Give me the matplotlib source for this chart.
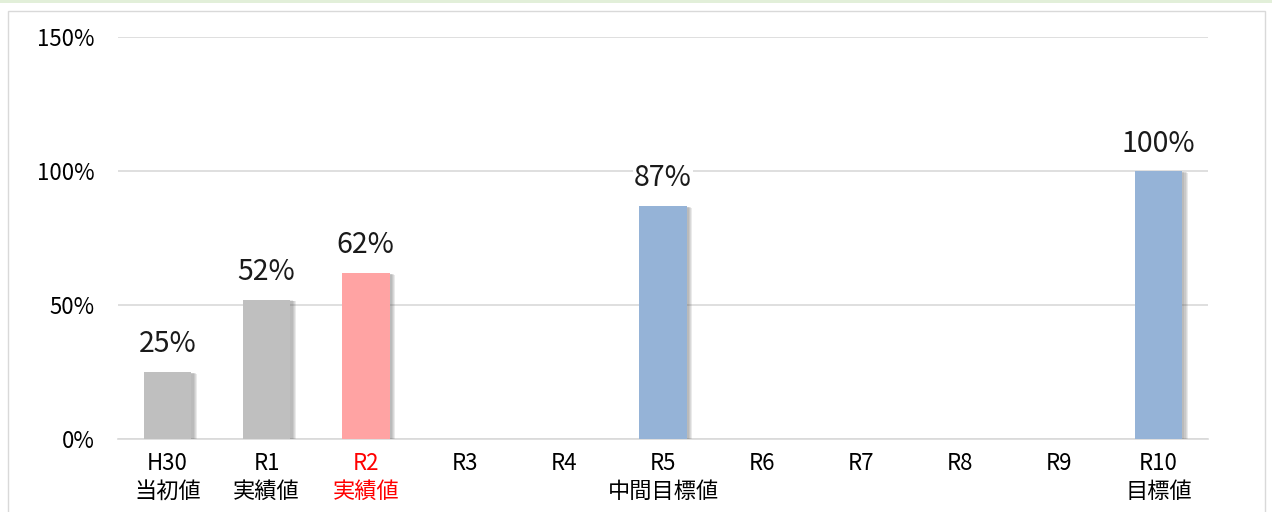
import matplotlib.pyplot as plt
import matplotlib.patheffects as pe
from matplotlib.patches import Rectangle
from matplotlib.ticker import PercentFormatter
import numpy as np

plt.rcParams['font.family'] = ['Noto Sans CJK JP', 'DejaVu Sans']

years = ['H30', 'R1', 'R2', 'R3', 'R4', 'R5', 'R6', 'R7', 'R8', 'R9', 'R10']
notes = ['当初値', '実績値', '実績値', '', '', '中間目標値', '', '', '', '', '目標値']
values = [25, 52, 62, None, None, 87, None, None, None, None, 100]
bar_colors = ['#bfbfbf', '#bfbfbf', '#ffa3a3', None, None, '#95b3d7',
              None, None, None, None, '#95b3d7']

fig = plt.figure(figsize=(12.72, 5.12), dpi=100)
W, H = 1272, 512

# outer frame and the thin green band at the very top
fig.patches.append(Rectangle((0, 509 / H), 1, 3 / H, transform=fig.transFigure,
                             facecolor='#e2efd9', edgecolor='none', zorder=-2))
fig.patches.append(Rectangle((8 / W, -0.01), 1257 / W, (501 / H) + 0.01,
                             transform=fig.transFigure, facecolor='white',
                             edgecolor='#d9d9d9', linewidth=1, zorder=-1))

ax = fig.add_axes([118 / W, 73 / H, 1090 / W, 402 / H])
ax.set_facecolor('none')
ax.set_zorder(2)

x = np.arange(len(years))
# soft shadow: a few stacked offsets with low alpha
shadow = [pe.SimplePatchShadow(offset=(d, -d / 3), shadow_rgbFace='#606060', alpha=0.13)
          for d in (4.0, 3.2, 2.4, 1.6)] + [pe.Normal()]
for i, v in enumerate(values):
    if v is None:
        continue
    b = ax.bar(x[i], v, width=0.48, color=bar_colors[i], zorder=3)
    for p in b:
        p.set_path_effects(shadow)
    ax.annotate(f'{v}%', (x[i], v), xytext=(0, 9), textcoords='offset points',
                ha='center', va='bottom', fontsize=20.5, color='#1a1a1a', zorder=4,
                bbox=dict(facecolor='white', edgecolor='none', pad=0.5))

ax.set_xlim(-0.5, len(years) - 0.5)
ax.set_ylim(0, 150)
ax.set_yticks([0, 50, 100, 150])
ax.yaxis.set_major_formatter(PercentFormatter(decimals=0))
ax.grid(axis='y', color='#d9d9d9', linewidth=1.2, zorder=0)
ax.set_axisbelow(True)
for s in ['top', 'right', 'left']:
    ax.spines[s].set_visible(False)
ax.spines['bottom'].set_color('#d9d9d9')
ax.spines['bottom'].set_linewidth(1.2)

ax.set_xticks(x)
ax.set_xticklabels([f'{y}\n{n}' for y, n in zip(years, notes)],
                   fontsize=16, linespacing=1.3)
ax.tick_params(axis='x', length=0, pad=9)
ax.tick_params(axis='y', length=0, pad=17, labelsize=16)
ax.get_xticklabels()[2].set_color('#ff0000')

fig.savefig('out.png', dpi=100)
